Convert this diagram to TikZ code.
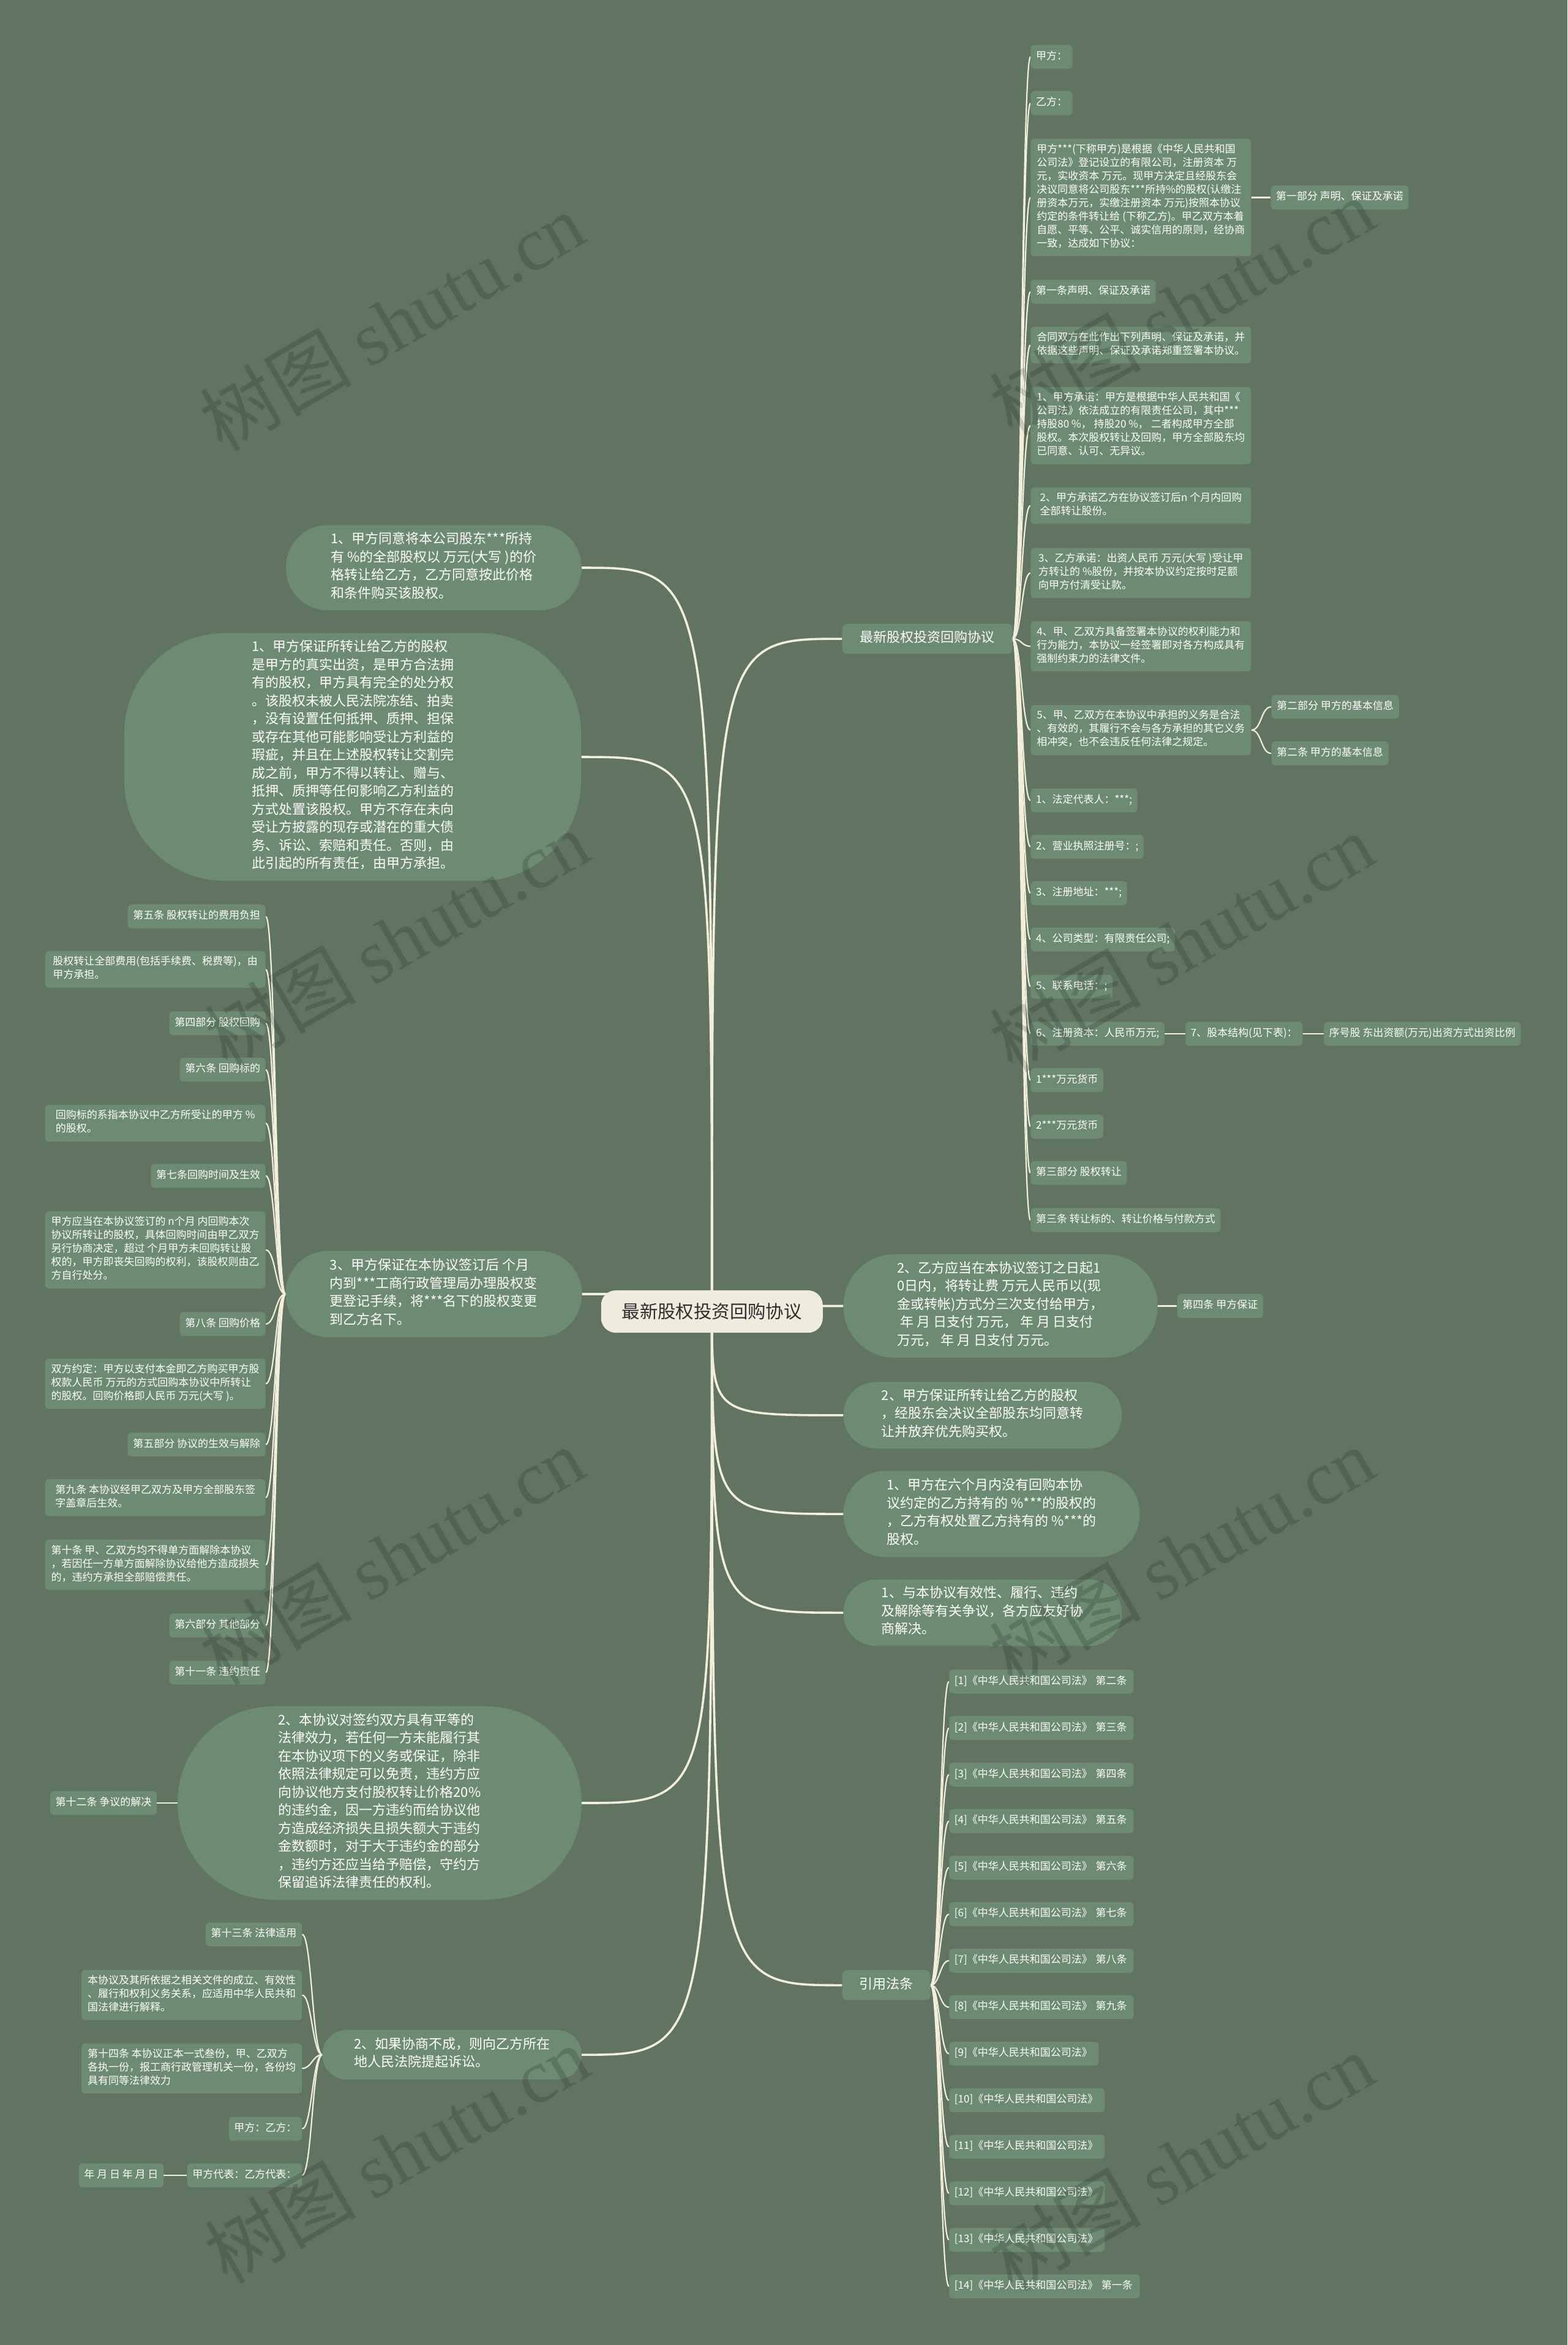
\documentclass[tikz,border=0pt]{standalone}
\usepackage{fontspec}
\setmainfont{Noto Sans CJK SC}
\newfontfamily\wmlatin{Liberation Serif}
\pgfdeclarelayer{back}
\pgfdeclarelayer{edges}
\pgfsetlayers{back,edges,main}
\definecolor{bgc}{HTML}{617462}
\definecolor{nodec}{HTML}{6D8A72}
\definecolor{linec}{HTML}{F2EEDA}
\definecolor{cenc}{HTML}{EFEBDD}
\definecolor{cent}{HTML}{2E2E2E}
\newcommand\fsmall{\fontsize{8.5pt}{11pt}\selectfont}
\newcommand\fmid{\fontsize{11pt}{14.75pt}\selectfont}
\newcommand\fbig{\fontsize{14.7pt}{18pt}\selectfont}
\newcommand\fwm{\fontsize{62pt}{70pt}\selectfont}
\tikzset{
 leaf/.style={fill=nodec, text=white, rounded corners=3pt, inner xsep=4.3pt, inner ysep=4.25pt, align=left, font=\fsmall, execute at begin node=\strut, execute at end node=\strut},
 wide/.style={leaf, minimum width=180pt},
 refbox/.style={leaf, text width=#1},
 bubble/.style={fill=nodec, text=white, align=left, font=\fmid, inner sep=0pt, execute at begin node=\strut, execute at end node=\strut},
 lvone/.style={fill=nodec, text=white, font=\fmid, rounded corners=4pt, inner sep=0pt, minimum height=24.4pt, execute at begin node=\strut},
 hub/.style={fill=cenc, text=cent, font=\fbig, rounded corners=12pt, minimum width=181pt, minimum height=34.6pt, inner sep=0pt},
 mainln/.style={draw=linec, line width=1.8pt},
 subln/.style={draw=linec, line width=1.1pt},
 wmark/.style={rotate=30, text=black, text opacity=0.15, font=\fwm, inner sep=0pt},
}
\begin{document}
\begin{tikzpicture}[x=1.22137pt,y=-1.22137pt]
\begin{pgfonlayer}{back}
\fill[bgc] (0,0) rectangle (1048,1567.5);
\end{pgfonlayer}
\useasboundingbox (0,0) rectangle (1048,1567.5);

% centre
\node[hub] (root) at (476,876.7) {最新股权投资回购协议};

% right level one
\node[lvone, anchor=west, minimum width=139pt] (R1) at (563,427) {最新股权投资回购协议};
\node[bubble, minimum width=256.5pt, minimum height=84.3pt, rounded corners=41.5pt] (R2) at (669,873) {2、乙方应当在本协议签订之日起1\\%
0日内，将转让费 万元人民币以(现\\%
金或转帐)方式分三次支付给甲方，\\%
\ 年 月 日支付 万元， 年 月 日支付\\%
万元， 年 月 日支付 万元。};
\node[bubble, minimum width=227.2pt, minimum height=54.2pt, rounded corners=26.5pt] (R3) at (657,946) {2、甲方保证所转让给乙方的股权\\%
，经股东会决议全部股东均同意转\\%
让并放弃优先购买权。};
\node[bubble, minimum width=241.8pt, minimum height=70.5pt, rounded corners=34.5pt] (R4) at (663,1012) {1、甲方在六个月内没有回购本协\\%
议约定的乙方持有的 \%***的股权的\\%
，乙方有权处置乙方持有的 \%***的\\%
股权。};
\node[bubble, minimum width=227.2pt, minimum height=54.2pt, rounded corners=26.5pt] (R5) at (657,1078) {1、与本协议有效性、履行、违约\\%
及解除等有关争议，各方应友好协\\%
商解决。};
\node[lvone, anchor=west, minimum width=72pt] (R6) at (563,1327) {引用法条};

% left level one
\node[bubble, minimum width=241.2pt, minimum height=69.6pt, rounded corners=34pt] (L1) at (290,379.5) {1、甲方同意将本公司股东***所持\\%
有 \%的全部股权以 万元(大写 )的价\\%
格转让给乙方，乙方同意按此价格\\%
和条件购买该股权。};
\node[bubble, minimum width=373.1pt, minimum height=202.1pt, rounded corners=81.8pt] (L2) at (235.8,506) {1、甲方保证所转让给乙方的股权\\%
是甲方的真实出资，是甲方合法拥\\%
有的股权，甲方具有完全的处分权\\%
。该股权未被人民法院冻结、拍卖\\%
，没有设置任何抵押、质押、担保\\%
或存在其他可能影响受让方利益的\\%
瑕疵，并且在上述股权转让交割完\\%
成之前，甲方不得以转让、赠与、\\%
抵押、质押等任何影响乙方利益的\\%
方式处置该股权。甲方不存在未向\\%
受让方披露的现存或潜在的重大债\\%
务、诉讼、索赔和责任。否则，由\\%
此引起的所有责任，由甲方承担。};
\node[bubble, minimum width=241.8pt, minimum height=70.4pt, rounded corners=34.5pt] (L3) at (290,865) {3、甲方保证在本协议签订后 个月\\%
内到***工商行政管理局办理股权变\\%
更登记手续，将***名下的股权变更\\%
到乙方名下。};
\node[bubble, minimum width=329.8pt, minimum height=157.8pt, rounded corners=78pt] (L4) at (253.8,1205.2) {2、本协议对签约双方具有平等的\\%
法律效力，若任何一方未能履行其\\%
在本协议项下的义务或保证，除非\\%
依照法律规定可以免责，违约方应\\%
向协议他方支付股权转让价格20\%\\%
的违约金，因一方违约而给协议他\\%
方造成经济损失且损失额大于违约\\%
金数额时，对于大于违约金的部分\\%
，违约方还应当给予赔偿，守约方\\%
保留追诉法律责任的权利。};
\node[bubble, minimum width=211.5pt, minimum height=40.3pt, rounded corners=19.5pt] (L5) at (302.2,1373.5) {2、如果协商不成，则向乙方所在\\%
地人民法院提起诉讼。};

% right group under R1
\node[leaf, anchor=west] (a1) at (689,38) {甲方：};
\node[leaf, anchor=west] (a2) at (689,69) {乙方：};
\node[wide, anchor=west] (a3) at (689,132) {甲方***(下称甲方)是根据《中华人民共和国\\%
公司法》登记设立的有限公司，注册资本 万\\%
元，实收资本 万元。现甲方决定且经股东会\\%
决议同意将公司股东***所持\%的股权(认缴注\\%
册资本万元，实缴注册资本 万元)按照本协议\\%
约定的条件转让给 (下称乙方)。甲乙双方本着\\%
自愿、平等、公平、诚实信用的原则，经协商\\%
一致，达成如下协议：};
\node[leaf, anchor=west] (a4) at (689,195) {第一条声明、保证及承诺};
\node[wide, anchor=west] (a5) at (689,230.6) {合同双方在此作出下列声明、保证及承诺，并\\%
依据这些声明、保证及承诺郑重签署本协议。};
\node[wide, anchor=west] (a6) at (689,284.5) {1、甲方承诺：甲方是根据中华人民共和国《\\%
公司法》依法成立的有限责任公司，其中***\\%
持股80 \%， 持股20 \%， 二者构成甲方全部\\%
股权。本次股权转让及回购，甲方全部股东均\\%
已同意、认可、无异议。};
\node[wide, anchor=west] (a7) at (689,338) {2、甲方承诺乙方在协议签订后n 个月内回购\\%
全部转让股份。};
\node[wide, anchor=west] (a8) at (689,383) {3、乙方承诺：出资人民币 万元(大写 )受让甲\\%
方转让的 \%股份，并按本协议约定按时足额\\%
向甲方付清受让款。};
\node[wide, anchor=west] (a9) at (689,432) {4、甲、乙双方具备签署本协议的权利能力和\\%
行为能力，本协议一经签署即对各方构成具有\\%
强制约束力的法律文件。};
\node[wide, anchor=west] (a10) at (689,488) {5、甲、乙双方在本协议中承担的义务是合法\\%
、有效的，其履行不会与各方承担的其它义务\\%
相冲突，也不会违反任何法律之规定。};
\node[leaf, anchor=west] (a11) at (689,535) {1、法定代表人：***;};
\node[leaf, anchor=west] (a12) at (689,566) {2、营业执照注册号：;};
\node[leaf, anchor=west] (a13) at (689,597) {3、注册地址：***;};
\node[leaf, anchor=west] (a14) at (689,628) {4、公司类型：有限责任公司;};
\node[leaf, anchor=west] (a15) at (689,659.5) {5、联系电话：;};
\node[leaf, anchor=west] (a16) at (689,691) {6、注册资本：人民币万元;};
\node[leaf, anchor=west] (a17) at (689,722) {1***万元货币};
\node[leaf, anchor=west] (a18) at (689,753) {2***万元货币};
\node[leaf, anchor=west] (a19) at (689,784) {第三部分 股权转让};
\node[leaf, anchor=west] (a20) at (689,815.6) {第三条 转让标的、转让价格与付款方式};

\node[leaf, anchor=west] (p1) at (849.5,132) {第一部分 声明、保证及承诺};
\node[leaf, anchor=west] (p2) at (850,472.5) {第二部分 甲方的基本信息};
\node[leaf, anchor=west] (p3) at (850,503.6) {第二条 甲方的基本信息};
\node[leaf, anchor=west] (s7) at (792.5,691) {7、股本结构(见下表)：};
\node[leaf, anchor=west] (s8) at (885,691) {序号股 东出资额(万元)出资方式出资比例};
\node[leaf, anchor=west] (q1) at (787,873) {第四条 甲方保证};

% references
\node[refbox=142pt, anchor=west] (f1) at (634.5,1124) {[1]《中华人民共和国公司法》 第二条};
\node[refbox=142pt, anchor=west] (f2) at (634.5,1155.1) {[2]《中华人民共和国公司法》 第三条};
\node[refbox=142pt, anchor=west] (f3) at (634.5,1186.2) {[3]《中华人民共和国公司法》 第四条};
\node[refbox=142pt, anchor=west] (f4) at (634.5,1217.3) {[4]《中华人民共和国公司法》 第五条};
\node[refbox=142pt, anchor=west] (f5) at (634.5,1248.4) {[5]《中华人民共和国公司法》 第六条};
\node[refbox=142pt, anchor=west] (f6) at (634.5,1279.5) {[6]《中华人民共和国公司法》 第七条};
\node[refbox=142pt, anchor=west] (f7) at (634.5,1310.6) {[7]《中华人民共和国公司法》 第八条};
\node[refbox=142pt, anchor=west] (f8) at (634.5,1341.7) {[8]《中华人民共和国公司法》 第九条};
\node[refbox=113.4pt, anchor=west] (f9) at (634.5,1372.8) {[9]《中华人民共和国公司法》};
\node[refbox=118.4pt, anchor=west] (f10) at (634.5,1403.9) {[10]《中华人民共和国公司法》};
\node[refbox=118.4pt, anchor=west] (f11) at (634.5,1435) {[11]《中华人民共和国公司法》};
\node[refbox=118.4pt, anchor=west] (f12) at (634.5,1466.1) {[12]《中华人民共和国公司法》};
\node[refbox=118.4pt, anchor=west] (f13) at (634.5,1497.2) {[13]《中华人民共和国公司法》};
\node[refbox=147pt, anchor=west] (f14) at (634.5,1528.3) {[14]《中华人民共和国公司法》 第一条};

% left group under L3
\node[leaf, anchor=east] (b1) at (177.7,612.6) {第五条 股权转让的费用负担};
\node[wide, anchor=east] (b2) at (177.7,648) {股权转让全部费用(包括手续费、税费等)，由\\%
甲方承担。};
\node[leaf, anchor=east] (b3) at (177.7,684) {第四部分 股权回购};
\node[leaf, anchor=east] (b4) at (177.7,715) {第六条 回购标的};
\node[wide, anchor=east] (b5) at (177.7,750.8) {回购标的系指本协议中乙方所受让的甲方 \%\\%
的股权。};
\node[leaf, anchor=east] (b6) at (177.7,786) {第七条回购时间及生效};
\node[wide, anchor=east] (b7) at (177.7,835.5) {甲方应当在本协议签订的 n个月 内回购本次\\%
协议所转让的股权，具体回购时间由甲乙双方\\%
另行协商决定，超过 个月甲方未回购转让股\\%
权的，甲方即丧失回购的权利，该股权则由乙\\%
方自行处分。};
\node[leaf, anchor=east] (b8) at (177.7,885) {第八条 回购价格};
\node[wide, anchor=east] (b9) at (177.7,925) {双方约定：甲方以支付本金即乙方购买甲方股\\%
权款人民币 万元的方式回购本协议中所转让\\%
的股权。回购价格即人民币 万元(大写 )。};
\node[leaf, anchor=east] (b10) at (177.7,965.6) {第五部分 协议的生效与解除};
\node[wide, anchor=east] (b11) at (177.7,1001) {第九条 本协议经甲乙双方及甲方全部股东签\\%
字盖章后生效。};
\node[wide, anchor=east] (b12) at (177.7,1046) {第十条 甲、乙双方均不得单方面解除本协议\\%
，若因任一方单方面解除协议给他方造成损失\\%
的，违约方承担全部赔偿责任。};
\node[leaf, anchor=east] (b13) at (177.7,1086.5) {第六部分 其他部分};
\node[leaf, anchor=east] (b14) at (177.7,1118) {第十一条 违约责任};

% left lower
\node[leaf, anchor=east] (d1) at (105,1205.2) {第十二条 争议的解决};
\node[leaf, anchor=east] (c1) at (202,1293) {第十三条 法律适用};
\node[wide, anchor=east] (c2) at (202,1333.6) {本协议及其所依据之相关文件的成立、有效性\\%
、履行和权利义务关系，应适用中华人民共和\\%
国法律进行解释。};
\node[wide, anchor=east] (c3) at (202,1382.6) {第十四条 本协议正本一式叁份，甲、乙双方\\%
各执一份，报工商行政管理机关一份，各份均\\%
具有同等法律效力};
\node[leaf, anchor=east] (c4) at (202,1423) {甲方：乙方：};
\node[leaf, anchor=east] (c5) at (202,1454) {甲方代表：乙方代表：};
\node[leaf, anchor=east] (c6) at (109.5,1454) {年 月 日 年 月 日};

% connectors
\begin{pgfonlayer}{edges}
\foreach \t in {R1,R2,R3,R4,R5,R6}
  \draw[mainln] (root.center) .. controls (root.center |- \t.west) .. (\t.west);
\foreach \t in {L1,L2,L3,L4,L5}
  \draw[mainln] (root.center) .. controls (root.center |- \t.east) .. (\t.east);
\foreach \i in {1,...,20}
  \draw[subln] (R1.east) .. controls +(6,0) and +(-6,0) .. (a\i.west);
\foreach \i in {1,...,14}
  \draw[subln] (R6.east) .. controls +(6,0) and +(-6,0) .. (f\i.west);
\foreach \i in {1,...,14}
  \draw[subln] (L3.west) .. controls +(-6.5,0) and +(6.5,0) .. (b\i.east);
\foreach \i in {1,...,5}
  \draw[subln] (L5.west) .. controls +(-6.5,0) and +(6.5,0) .. (c\i.east);
\draw[subln] (a3.east) -- (p1.west);
\draw[subln] (a10.east) .. controls +(7,0) and +(-7,0) .. (p2.west);
\draw[subln] (a10.east) .. controls +(7,0) and +(-7,0) .. (p3.west);
\draw[subln] (a16.east) -- (s7.west);
\draw[subln] (s7.east) -- (s8.west);
\draw[subln] (R2.east) -- (q1.west);
\draw[subln] (L4.west) -- (d1.east);
\draw[subln] (c5.west) -- (c6.east);
\end{pgfonlayer}

% watermarks
\node[wmark] (wm1) at (262,215) {树图 {\wmlatin shutu.cn}};
\node[wmark] (wm2) at (790,205) {树图 {\wmlatin shutu.cn}};
\node[wmark] (wm3) at (265,628) {树图 {\wmlatin shutu.cn}};
\node[wmark] (wm4) at (790,630) {树图 {\wmlatin shutu.cn}};
\node[wmark] (wm5) at (262,1040) {树图 {\wmlatin shutu.cn}};
\node[wmark] (wm6) at (790,1040) {树图 {\wmlatin shutu.cn}};
\node[wmark] (wm7) at (265,1440) {树图 {\wmlatin shutu.cn}};
\node[wmark] (wm8) at (790,1445) {树图 {\wmlatin shutu.cn}};
\end{tikzpicture}
\end{document}
